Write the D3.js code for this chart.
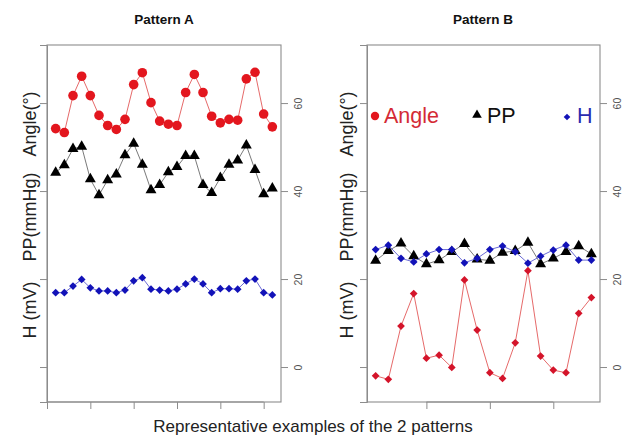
<!DOCTYPE html>
<html>
<head>
<meta charset="utf-8">
<script src="https://cdn.jsdelivr.net/npm/d3@7"></script>
<style>
  html, body { margin: 0; padding: 0; background: #fff; }
  svg { display: block; font-family: "Liberation Sans", Arial, Helvetica, sans-serif; }
</style>
</head>
<body>
<svg id="chart" width="635" height="446"></svg>
<script>
// Pattern A: 26 consecutive beats
const beatsA = d3.range(1, 27);
const angleA = [54.2, 53.3, 61.7, 66.1, 61.7, 57.2, 54.9, 54.0, 56.3, 64.2, 66.9, 60.1, 55.9,
                55.2, 54.9, 62.4, 66.5, 62.4, 57.0, 55.5, 56.3, 56.1, 65.5, 67.0, 57.5, 54.6];
const ppA    = [44.2, 45.9, 49.6, 50.1, 42.7, 39.1, 42.5, 43.8, 48.2, 50.8, 46.0, 40.2, 41.4,
                44.3, 45.5, 48.0, 48.0, 41.4, 39.6, 43.0, 46.0, 47.0, 50.4, 44.8, 39.3, 40.6];
const hA     = [16.9, 16.9, 18.4, 19.9, 18.0, 17.3, 17.3, 16.9, 17.5, 19.6, 20.3, 17.7, 17.5,
                17.3, 17.7, 18.9, 20.0, 18.9, 16.9, 17.8, 17.8, 17.7, 19.6, 20.0, 16.9, 16.4];

// Pattern B: 18 consecutive beats
const beatsB = d3.range(1, 19);
const angleB = [-2.0, -2.8, 9.3, 16.7, 2.0, 2.7, -0.1, 19.8, 8.4, -1.3, -2.6, 5.5, 21.9,
                2.5, -0.7, -1.3, 12.2, 15.8];
const ppB    = [24.2, 26.4, 28.1, 25.2, 23.4, 24.3, 26.2, 28.0, 24.5, 24.2, 26.0, 26.4, 28.3,
                23.4, 24.7, 26.2, 27.5, 25.7];
const hB     = [26.7, 27.7, 24.7, 23.9, 25.7, 26.7, 26.7, 23.7, 24.7, 26.7, 27.5, 26.2, 23.6,
                25.2, 26.6, 27.7, 24.3, 24.3];

const yTicks = [0, 20, 40, 60];
const panelTitles = ["Pattern A", "Pattern B"];
const legendLabels = ["Angle", "PP", "H"];
const yTitles = ["Angle(°)", "PP(mmHg)", "H (mV)"];
const xTitle = "Representative examples of the 2 patterns";

const svg = d3.select("#chart");
const plotTop = 45, plotBottom = 402;
const y = d3.scaleLinear().domain([-7.95, 73.2]).range([plotBottom, plotTop]);

const RED = "#e3161e", RED_B = "#d4142a", BLUE = "#1212b8", AXIS = "#8c8c8c";

const panels = [
  { x0: 47,  x1: 281, dom: [0, 27],        beats: beatsA, angle: angleA, pp: ppA, h: hA,
    angleShape: "circle", xTicks: [0, 5, 10, 15, 20, 25], title: panelTitles[0], titleX: 164, yTitleX: 36 },
  { x0: 367, x1: 600, dom: [0.32, 18.68],  beats: beatsB, angle: angleB, pp: ppB, h: hB,
    angleShape: "diamond", xTicks: [5, 10, 15], title: panelTitles[1], titleX: 483, yTitleX: 353 }
];

const tri = d3.symbol().type(d3.symbolTriangle).size(52);
const diamond = d3.symbol().type(d3.symbolSquare).size(30);

panels.forEach(p => {
  const x = d3.scaleLinear().domain(p.dom).range([p.x0, p.x1]);
  const g = svg.append("g");

  // frame
  g.append("rect")
    .attr("x", p.x0).attr("y", plotTop)
    .attr("width", p.x1 - p.x0).attr("height", plotBottom - plotTop)
    .attr("fill", "none").attr("stroke", AXIS).attr("stroke-width", 1.1);

  // left axis (ticks only)
  const la = g.append("g").attr("transform", `translate(${p.x0},0)`)
    .call(d3.axisLeft(y).tickValues(yTicks).tickSize(7).tickFormat(""));
  la.selectAll("line").attr("stroke", AXIS);
  la.select(".domain").attr("stroke", AXIS);

  // right axis with rotated labels
  const ra = g.append("g").attr("transform", `translate(${p.x1},0)`)
    .call(d3.axisRight(y).tickValues(yTicks).tickSize(7).tickSizeOuter(0).tickFormat(d3.format("d")));
  ra.select(".domain").remove();
  ra.selectAll("line").attr("stroke", AXIS);
  ra.selectAll("text")
    .attr("x", 0).attr("dy", null)
    .attr("transform", "translate(18,0) rotate(-90)")
    .attr("text-anchor", "middle").attr("dominant-baseline", "middle")
    .attr("font-size", 10.5).attr("fill", "#555");

  // bottom axis (ticks only)
  const ba = g.append("g").attr("transform", `translate(0,${plotBottom})`)
    .call(d3.axisBottom(x).tickValues(p.xTicks).tickSize(7).tickSizeOuter(0).tickFormat(""));
  ba.select(".domain").attr("d", `M${x(p.xTicks[0])},0H${x(p.xTicks[p.xTicks.length - 1])}`).attr("stroke", AXIS);
  ba.selectAll("line").attr("stroke", AXIS);

  const line = d3.line().x((d, i) => x(p.beats[i])).y(d => y(d));

  // Angle
  g.append("path").datum(p.angle).attr("d", line)
    .attr("fill", "none").attr("stroke", "#e66a6a").attr("stroke-width", 1);
  if (p.angleShape === "circle") {
    g.selectAll(".ang").data(p.angle).join("circle")
      .attr("cx", (d, i) => x(p.beats[i])).attr("cy", d => y(d))
      .attr("r", 4.8).attr("fill", RED);
  } else {
    g.selectAll(".ang").data(p.angle).join("path")
      .attr("d", diamond)
      .attr("transform", (d, i) => `translate(${x(p.beats[i])},${y(d)}) rotate(45)`)
      .attr("fill", RED_B);
  }

  // PP
  g.append("path").datum(p.pp).attr("d", line)
    .attr("fill", "none").attr("stroke", "#6a6a6a").attr("stroke-width", 0.9);
  g.selectAll(".pp").data(p.pp).join("path")
    .attr("d", tri)
    .attr("transform", (d, i) => `translate(${x(p.beats[i])},${y(d)})`)
    .attr("fill", "#000");

  // H
  g.append("path").datum(p.h).attr("d", line)
    .attr("fill", "none").attr("stroke", "#5a5ad0").attr("stroke-width", 0.9);
  g.selectAll(".h").data(p.h).join("path")
    .attr("d", diamond)
    .attr("transform", (d, i) => `translate(${x(p.beats[i])},${y(d)}) rotate(45)`)
    .attr("fill", BLUE);

  // panel title
  svg.append("text").attr("x", p.titleX).attr("y", 23.5)
    .attr("text-anchor", "middle").attr("font-weight", "bold").attr("font-size", 13.5)
    .attr("fill", "#111").text(p.title);

  // y titles (three stacked labels)
  const yt = [124, 217, 310];
  yTitles.forEach((t, i) => {
    svg.append("text")
      .attr("transform", `translate(${p.yTitleX},${yt[i]}) rotate(-90)`)
      .attr("text-anchor", "middle").attr("font-size", 18).attr("fill", "#222")
      .text(t);
  });
});

// legend inside Pattern B
const leg = svg.append("g");
leg.append("circle").attr("cx", 375).attr("cy", 116).attr("r", 4.2).attr("fill", RED);
leg.append("text").attr("x", 384).attr("y", 122.5).attr("font-size", 21.5).attr("fill", "#d42a35").text(legendLabels[0]);
leg.append("path").attr("d", d3.symbol().type(d3.symbolTriangle).size(40)).attr("transform", "translate(477,115)").attr("fill", "#000");
leg.append("text").attr("x", 487).attr("y", 122.5).attr("font-size", 21.5).attr("fill", "#111").text(legendLabels[1]);
leg.append("path").attr("d", d3.symbol().type(d3.symbolSquare).size(22)).attr("transform", "translate(567,117) rotate(45)").attr("fill", BLUE);
leg.append("text").attr("x", 577).attr("y", 122.5).attr("font-size", 21.5).attr("fill", "#2b2bb0").text(legendLabels[2]);

// x title
svg.append("text").attr("x", 313).attr("y", 432)
  .attr("text-anchor", "middle").attr("font-size", 17).attr("fill", "#222").text(xTitle);
</script>
</body>
</html>
